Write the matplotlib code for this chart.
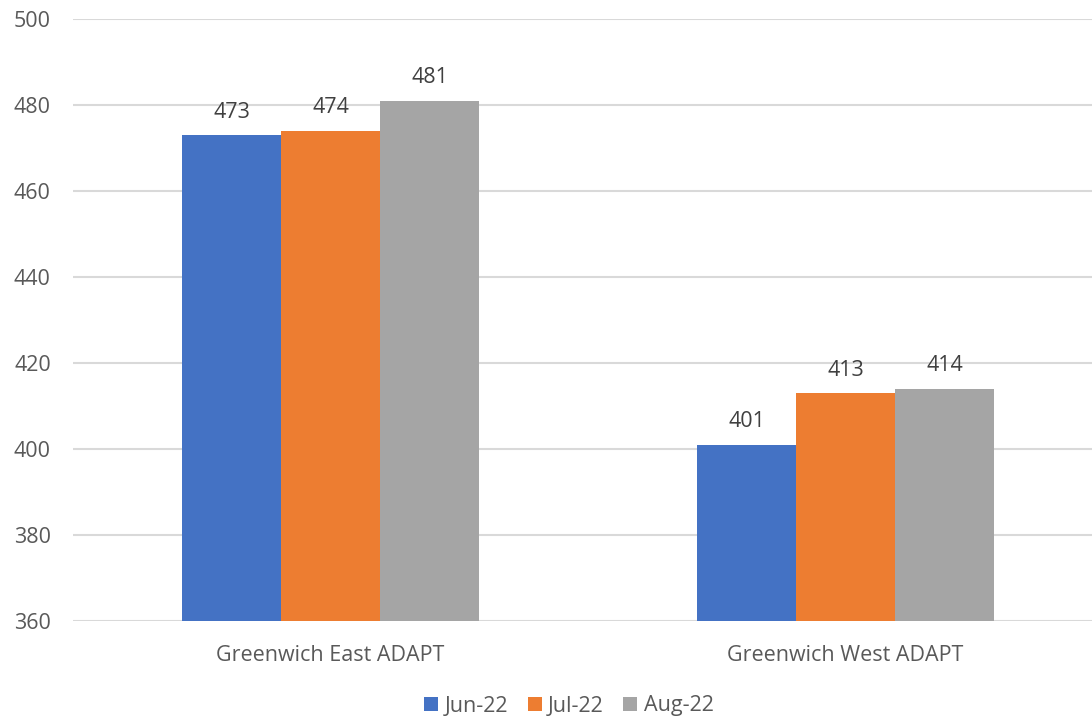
import matplotlib
matplotlib.use("Agg")
import matplotlib.pyplot as plt
import numpy as np

categories = ["Greenwich East ADAPT", "Greenwich West ADAPT"]
series_names = ["Jun-22", "Jul-22", "Aug-22"]
jun_22 = [473, 401]
jul_22 = [474, 413]
aug_22 = [481, 414]
y_ticks = [360, 380, 400, 420, 440, 460, 480, 500]

colors = ["#4472C4", "#ED7D31", "#A5A5A5"]
text_color = "#595959"
plt.rcParams["font.family"] = ["Open Sans", "DejaVu Sans"]

W, H = 1092, 719
fig = plt.figure(figsize=(W / 100, H / 100), dpi=100)
ax = fig.add_axes([73 / W, 98 / H, 1019 / W, 602 / H])

x = np.arange(len(categories))
bar_w = 0.1922
for i, (name, vals, c) in enumerate(zip(series_names, [jun_22, jul_22, aug_22], colors)):
    bars = ax.bar(x + (i - 1) * bar_w, vals, width=bar_w, color=c, label=name, zorder=3)
    for b, v in zip(bars, vals):
        ax.annotate(f"{v}", (b.get_x() + b.get_width() / 2, v), xytext=(0, 9),
                    textcoords="offset points", ha="center", va="bottom",
                    fontsize=15.5, color="#404040")

ax.set_xlim(-0.5, -0.5 + 1019 / 515)
ax.set_ylim(360, 500)
ax.set_yticks(y_ticks)
ax.set_xticks(x)
ax.set_xticklabels(categories)
ax.grid(axis="y", color="#D9D9D9", linewidth=1.5, zorder=0)
for s in ax.spines.values():
    s.set_visible(False)
ax.tick_params(axis="both", length=0, labelsize=15.5, labelcolor=text_color)
ax.tick_params(axis="y", pad=16)
ax.tick_params(axis="x", pad=17)

leg = fig.legend(loc="center", bbox_to_anchor=(569 / W, 1 - 706 / H), ncol=3,
                 frameon=False, fontsize=15.5, handlelength=0.65, handleheight=0.65,
                 handletextpad=0.3, columnspacing=0.9, labelcolor=text_color)

fig.savefig("out.png", dpi=100)
